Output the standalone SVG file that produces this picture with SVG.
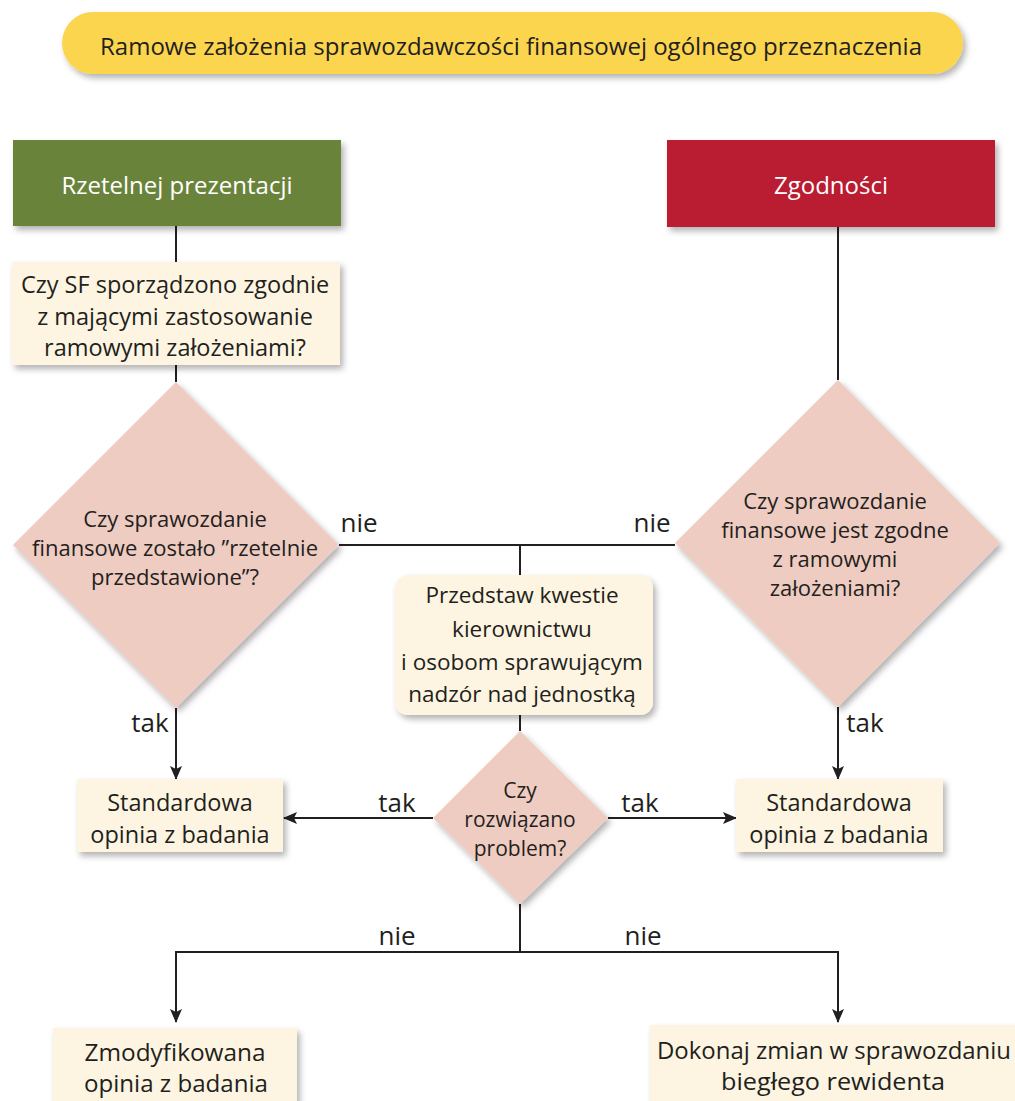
<svg xmlns="http://www.w3.org/2000/svg" width="1015" height="1101" viewBox="0 0 1015 1101">
<defs>
<filter id="sh" x="-10%" y="-10%" width="130%" height="140%">
<feDropShadow dx="3" dy="4" stdDeviation="3" flood-color="#000" flood-opacity="0.3"/>
</filter>
<marker id="arr" markerUnits="userSpaceOnUse" markerWidth="14" markerHeight="12" viewBox="0 0 14 12" refX="13" refY="6" orient="auto">
<path d="M0,0 L14,6 L0,12 L3,6 z" fill="#231F20"/>
</marker>
</defs>
<style>
text{font-family:"Open Sans","Noto Sans",sans-serif;fill:#231F20;text-anchor:middle}
.w{fill:#fff}
.t22{font-size:23.5px}
.tp{font-size:22.5px}
.t21{font-size:22px}
.tm{font-size:21px}
.lbl{font-size:26px}
.box{fill:#FDF5E1;filter:url(#sh)}
.dia{fill:#EFCCC1;filter:url(#sh)}
.ln{stroke:#231F20;stroke-width:2;fill:none}
</style>
<rect width="1015" height="1101" fill="#fff"/>

<g id="connectors">
<path class="ln" d="M176,226 V262"/>
<path class="ln" d="M176,365 V382"/>
<path class="ln" d="M838,227 V380"/>
<path class="ln" d="M339,545 H675"/>
<path class="ln" d="M520,545 V576"/>
<path class="ln" d="M520,715 V731"/>
<path class="ln" d="M176,708 V779" marker-end="url(#arr)"/>
<path class="ln" d="M838,707 V779" marker-end="url(#arr)"/>
<path class="ln" d="M433,818 H284" marker-end="url(#arr)"/>
<path class="ln" d="M608,818 H736" marker-end="url(#arr)"/>
<path class="ln" d="M520,904 V952"/>
<path class="ln" d="M176,952 H838"/>
<path class="ln" d="M176,951 V1022" marker-end="url(#arr)"/>
<path class="ln" d="M838,951 V1022" marker-end="url(#arr)"/>
<text class="lbl" x="359" y="532">nie</text>
<text class="lbl" x="652" y="532">nie</text>
<text class="lbl" x="150" y="732">tak</text>
<text class="lbl" x="865" y="732">tak</text>
<text class="lbl" x="397" y="812">tak</text>
<text class="lbl" x="640" y="812">tak</text>
<text class="lbl" x="397" y="945">nie</text>
<text class="lbl" x="643" y="945">nie</text>
</g>

<g id="title">
<rect x="62" y="12" width="901" height="62" rx="31" fill="#FCD54F" filter="url(#sh)"/>
<text x="511" y="55" font-size="23" textLength="822" lengthAdjust="spacingAndGlyphs">Ramowe założenia sprawozdawczości finansowej ogólnego przeznaczenia</text>
</g>

<g id="rzetelnej">
<rect x="13" y="140" width="328" height="86" fill="#6A833A" filter="url(#sh)"/>
<text class="w" x="177" y="194" font-size="24">Rzetelnej prezentacji</text>
</g>

<g id="zgodnosci">
<rect x="667" y="140" width="328" height="87" fill="#BA1F33" filter="url(#sh)"/>
<text class="w" x="831" y="194" font-size="24">Zgodności</text>
</g>

<g id="czy-sf">
<rect class="box" x="12" y="262" width="328" height="103"/>
<text class="t22" x="175" y="293">Czy SF sporządzono zgodnie</text>
<text class="t22" x="175" y="325">z mającymi zastosowanie</text>
<text class="t22" x="175" y="356">ramowymi założeniami?</text>
</g>

<g id="diamond-left">
<polygon class="dia" points="176,382 339,545 176,708 13,545"/>
<text class="t21" x="175" y="527">Czy sprawozdanie</text>
<text class="t21" x="175" y="556">finansowe zostało ”rzetelnie</text>
<text class="t21" x="175" y="585">przedstawione”?</text>
</g>

<g id="diamond-right">
<polygon class="dia" points="838,380 1000,543 838,707 675,543"/>
<text class="t21" x="835" y="509">Czy sprawozdanie</text>
<text class="t21" x="835" y="538">finansowe jest zgodne</text>
<text class="t21" x="835" y="567">z ramowymi</text>
<text class="t21" x="835" y="596">założeniami?</text>
</g>

<g id="przedstaw">
<rect class="box" x="395" y="575" width="258" height="140" rx="13"/>
<text class="tp" x="522" y="603">Przedstaw kwestie</text>
<text class="tp" x="522" y="637">kierownictwu</text>
<text class="tp" x="522" y="670">i osobom sprawującym</text>
<text class="tp" x="522" y="702">nadzór nad jednostką</text>
</g>

<g id="diamond-mid">
<polygon class="dia" points="520,731 608,818 520,904 433,818"/>
<text class="tm" x="520" y="798">Czy</text>
<text class="tm" x="520" y="827">rozwiązano</text>
<text class="tm" x="520" y="856">problem?</text>
</g>

<g id="std-left">
<rect class="box" x="77" y="779" width="206" height="73"/>
<text class="t22" x="180" y="811">Standardowa</text>
<text class="t22" x="180" y="843">opinia z badania</text>
</g>

<g id="std-right">
<rect class="box" x="736" y="779" width="207" height="73"/>
<text class="t22" x="839" y="811">Standardowa</text>
<text class="t22" x="839" y="843">opinia z badania</text>
</g>

<g id="zmodyfikowana">
<rect class="box" x="53" y="1028" width="244" height="90"/>
<text x="175" y="1061" font-size="24" textLength="181" lengthAdjust="spacingAndGlyphs">Zmodyfikowana</text>
<text x="176" y="1092" font-size="24" textLength="184" lengthAdjust="spacingAndGlyphs">opinia z badania</text>
</g>

<g id="dokonaj">
<rect class="box" x="650" y="1025" width="368" height="90"/>
<text x="834" y="1059" font-size="24" textLength="354" lengthAdjust="spacingAndGlyphs">Dokonaj zmian w sprawozdaniu</text>
<text x="833" y="1090" font-size="24" textLength="224" lengthAdjust="spacingAndGlyphs">biegłego rewidenta</text>
</g>
</svg>
